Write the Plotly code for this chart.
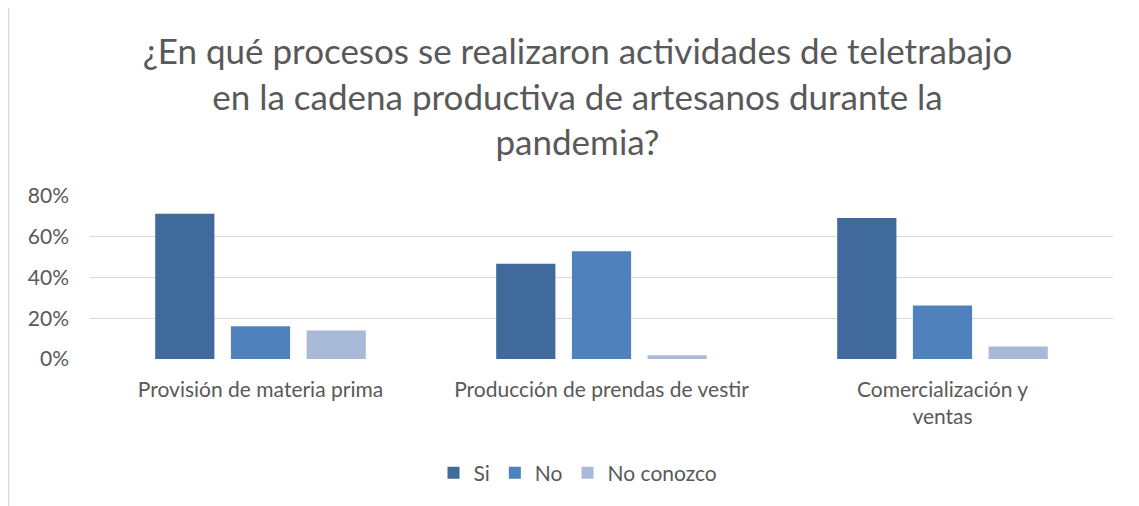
import plotly.graph_objects as go

categories = ["Provisión de materia prima", "Producción de prendas de vestir", "Comercialización y<br>ventas"]
si = [0.713, 0.468, 0.692]
no = [0.161, 0.529, 0.263]
no_conozco = [0.140, 0.018, 0.061]
series_names = ["Si", "No", "No conozco"]
colors = ["#3F6A9B", "#4F81BD", "#A9BAD8"]
y_ticks = [0, 0.2, 0.4, 0.6, 0.8]
y_tick_labels = ["0%", "20%", "40%", "60%", "80%"]
title_text = ("¿En qué procesos se realizaron actividades de teletrabajo<br>"
              "en la cadena productiva de artesanos durante la<br>pandemia?")

FONT = "Lato"
GRAY = "#595959"
OFF = 8  # page body margin offset

fig = go.Figure()
for name, vals, col in zip(series_names, [si, no, no_conozco], colors):
    fig.add_trace(go.Bar(x=categories, y=vals, name=name,
                         marker=dict(color=col, line=dict(width=0))))

W, H = 1139, 506
L = 90 - OFF
R = W - (1113 - OFF)
T = 196 - OFF
B = H - (359 - OFF)
pw, ph = W - L - R, H - T - B

def px_x(x):  # page x -> paper
    return (x - OFF - L) / pw

def px_y(y):  # page y -> paper
    return (H - B - (y - OFF)) / ph

fig.update_layout(
    width=W, height=H,
    margin=dict(l=L, r=R, t=T, b=B),
    paper_bgcolor="white", plot_bgcolor="white",
    barmode="group", bargap=0.334, bargroupgap=0.218,
    font=dict(family=FONT, color=GRAY, size=21),
    title=dict(text=title_text, x=0.5, xanchor="center", y=1 - 56 / H, yanchor="middle",
               font=dict(family=FONT, size=35, color=GRAY)),
    showlegend=True,
    legend=dict(orientation="h", x=px_x(578), xanchor="center", y=px_y(473), yanchor="middle",
                font=dict(size=21, color=GRAY), itemwidth=30),
    xaxis=dict(showgrid=False, showline=False, ticks="", tickfont=dict(size=21, color=GRAY),
               ticklabelstandoff=16),
    yaxis=dict(range=[0, 0.8], tickvals=y_ticks, ticktext=y_tick_labels,
               showgrid=True, gridcolor="#D9D9D9", gridwidth=1, zeroline=False,
               showline=False, ticks="", tickfont=dict(size=21, color=GRAY),
               ticklabelstandoff=20),
    shapes=[dict(type="rect", xref="paper", yref="paper",
                 x0=px_x(8.5), x1=px_x(1400), y0=px_y(800), y1=px_y(6.5),
                 line=dict(color="#D9D9D9", width=1.5), fillcolor="rgba(0,0,0,0)", layer="below")],
)

fig.write_html("out.html")
